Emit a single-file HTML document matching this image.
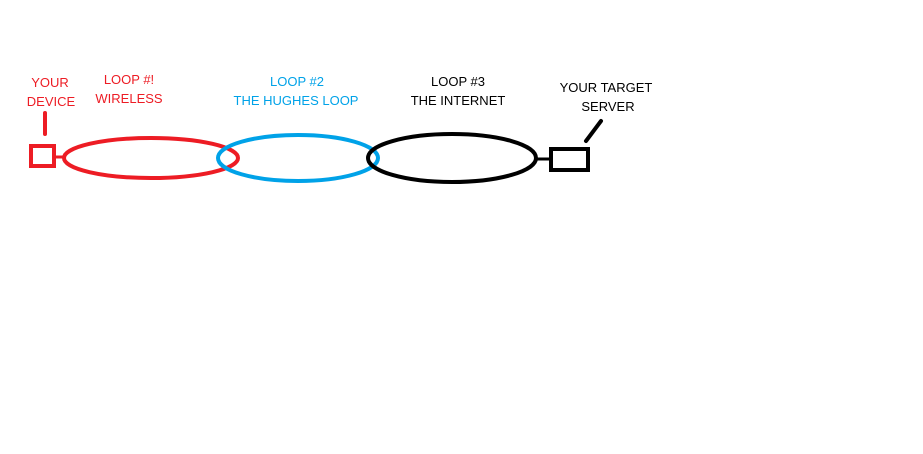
<!DOCTYPE html>
<html><head><meta charset="utf-8"><style>
html,body{margin:0;padding:0;background:#fff;width:923px;height:454px;overflow:hidden}
svg{display:block}
text{font-family:"Liberation Sans",sans-serif;font-size:13px;text-anchor:middle}
</style></head><body>
<svg width="923" height="454" viewBox="0 0 923 454">
<rect width="923" height="454" fill="#fff"/>
<text x="50" y="87" fill="#ed1c24">YOUR</text>
<text x="51" y="106" fill="#ed1c24">DEVICE</text>
<text x="129" y="84" fill="#ed1c24">LOOP #!</text>
<text x="129" y="103" fill="#ed1c24">WIRELESS</text>
<text x="297" y="86" fill="#00a2e8">LOOP #2</text>
<text x="296" y="105" fill="#00a2e8">THE HUGHES LOOP</text>
<text x="458" y="86" fill="#000">LOOP #3</text>
<text x="458" y="105" fill="#000">THE INTERNET</text>
<text x="606" y="92" fill="#000">YOUR TARGET</text>
<text x="608" y="111" fill="#000">SERVER</text>
<line x1="45" y1="113" x2="45" y2="134" stroke="#ed1c24" stroke-width="4" stroke-linecap="round"/>
<rect x="31" y="146" width="23" height="20" fill="none" stroke="#ed1c24" stroke-width="4"/>
<line x1="54" y1="157" x2="64" y2="157" stroke="#ed1c24" stroke-width="3"/>
<ellipse cx="151" cy="158" rx="87" ry="20" fill="none" stroke="#ed1c24" stroke-width="4"/>
<ellipse cx="298" cy="158" rx="80" ry="23" fill="none" stroke="#00a2e8" stroke-width="4"/>
<ellipse cx="452" cy="158" rx="84" ry="24" fill="none" stroke="#000" stroke-width="4"/>
<line x1="536" y1="159" x2="550" y2="159" stroke="#000" stroke-width="3"/>
<rect x="551" y="149" width="37" height="21" fill="none" stroke="#000" stroke-width="4"/>
<line x1="601" y1="121" x2="586" y2="141" stroke="#000" stroke-width="4" stroke-linecap="round"/>
</svg>
</body></html>
